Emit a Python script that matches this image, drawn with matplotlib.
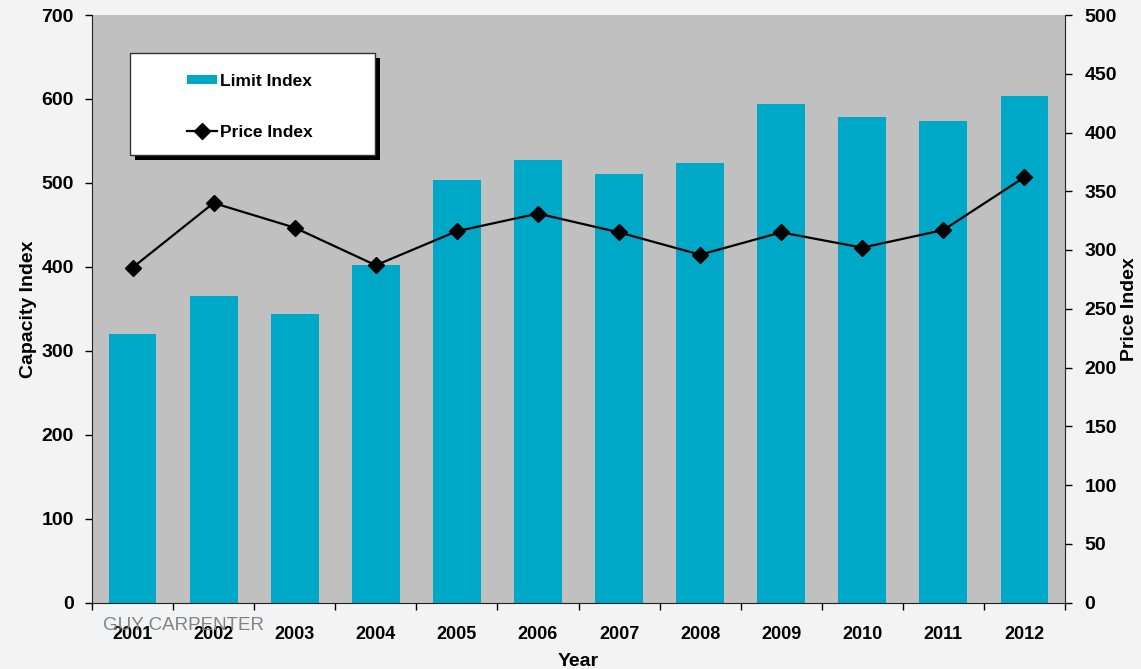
"""Capacity (limit) index bars vs price index line, 2001-2012 — writes out.png."""

import matplotlib.pyplot as plt
import numpy as np
from matplotlib.patches import Rectangle

years = ["2001", "2002", "2003", "2004", "2005", "2006",
         "2007", "2008", "2009", "2010", "2011", "2012"]
limit_index = [320, 365, 344, 402, 503, 527, 511, 524, 594, 579, 574, 604]
price_index = [285, 340, 319, 287, 316, 331, 315, 296, 315, 302, 317, 362]

BAR_COLOR = "#00a8c8"
PLOT_BG = "#c0c0c0"
FIG_BG = "#f3f3f3"
W, H = 1141, 669
AX_L, AX_T, AX_W, AX_H = 92, 15, 973, 587.5

plt.rcParams.update(
    {
        "font.family": ["Liberation Sans", "DejaVu Sans"],
        "font.weight": "bold",
        "axes.labelweight": "bold",
    }
)


def ax_xy(px, py):
    """Pixel position in the figure -> axes fraction."""
    return (px - AX_L) / AX_W, 1 - (py - AX_T) / AX_H


fig = plt.figure(figsize=(W / 100, H / 100), dpi=100, facecolor=FIG_BG)
ax = fig.add_axes([AX_L / W, (H - AX_T - AX_H) / H, AX_W / W, AX_H / H])
ax.set_facecolor(PLOT_BG)

x = np.arange(len(years))
bars = ax.bar(x, limit_index, width=0.59, color=BAR_COLOR, label="Limit Index", zorder=2)
ax.set_xlim(-0.5, len(years) - 0.5)
ax.set_ylim(0, 700)
ax.set_yticks(range(0, 701, 100))

# category labels centred, tick marks on the category boundaries
ax.set_xticks(x)
ax.set_xticklabels(years)
ax.set_xticks(np.arange(-0.5, len(years)), minor=True)
ax.tick_params(axis="x", which="major", length=0, pad=17, labelsize=13)
ax.tick_params(axis="x", which="minor", length=5, width=1, direction="out")
ax.tick_params(axis="y", length=5, width=1, direction="out", pad=8, labelsize=14)

for side in ("top", "right"):
    ax.spines[side].set_visible(False)
for side in ("left", "bottom"):
    ax.spines[side].set_color("#222222")

ax.set_ylabel("Capacity Index", fontsize=14, labelpad=3)
ax.set_xlabel("Year", fontsize=14, labelpad=7)

ax2 = ax.twinx()
line, = ax2.plot(x, price_index, color="black", lw=1.6, marker="D", ms=8,
                 label="Price Index", zorder=3)
ax2.set_ylim(0, 500)
ax2.set_yticks(range(0, 501, 50))
ax2.tick_params(axis="y", length=5, width=1, direction="out", pad=9, labelsize=14)
for side in ("top", "left", "bottom"):
    ax2.spines[side].set_visible(False)
ax2.spines["right"].set_color("#222222")
ax2.set_ylabel("Price Index", fontsize=14, labelpad=3)

# legend box with a hard drop shadow
bx0, by_top = ax_xy(130, 53)
bx1, by_bot = ax_xy(375, 155)
sx, sy = 5 / AX_W, 5 / AX_H
ax2.add_patch(Rectangle((bx0 + sx, by_bot - sy), bx1 - bx0, by_top - by_bot,
                        transform=ax2.transAxes, facecolor="black",
                        edgecolor="none", zorder=6))
ax2.add_patch(Rectangle((bx0, by_bot), bx1 - bx0, by_top - by_bot,
                        transform=ax2.transAxes, facecolor="white",
                        edgecolor="#333333", lw=1.0, zorder=7))

leg = ax2.legend(
    [bars, line], ["Limit Index", "Price Index"],
    loc="upper left", bbox_to_anchor=ax_xy(187, 74),
    frameon=False, labelspacing=2.05,
    handlelength=1.75, handleheight=0.45, handletextpad=0.15,
    borderpad=0, borderaxespad=0, prop={"weight": "bold", "size": 12.5},
)
leg.set_zorder(8)

fig.text(103 / W, 1 - 625 / H, "GUY CARPENTER", color="#7c858c",
         fontsize=13.5, fontweight="normal", va="center", ha="left")

fig.savefig("out.png", dpi=100, facecolor=FIG_BG)
